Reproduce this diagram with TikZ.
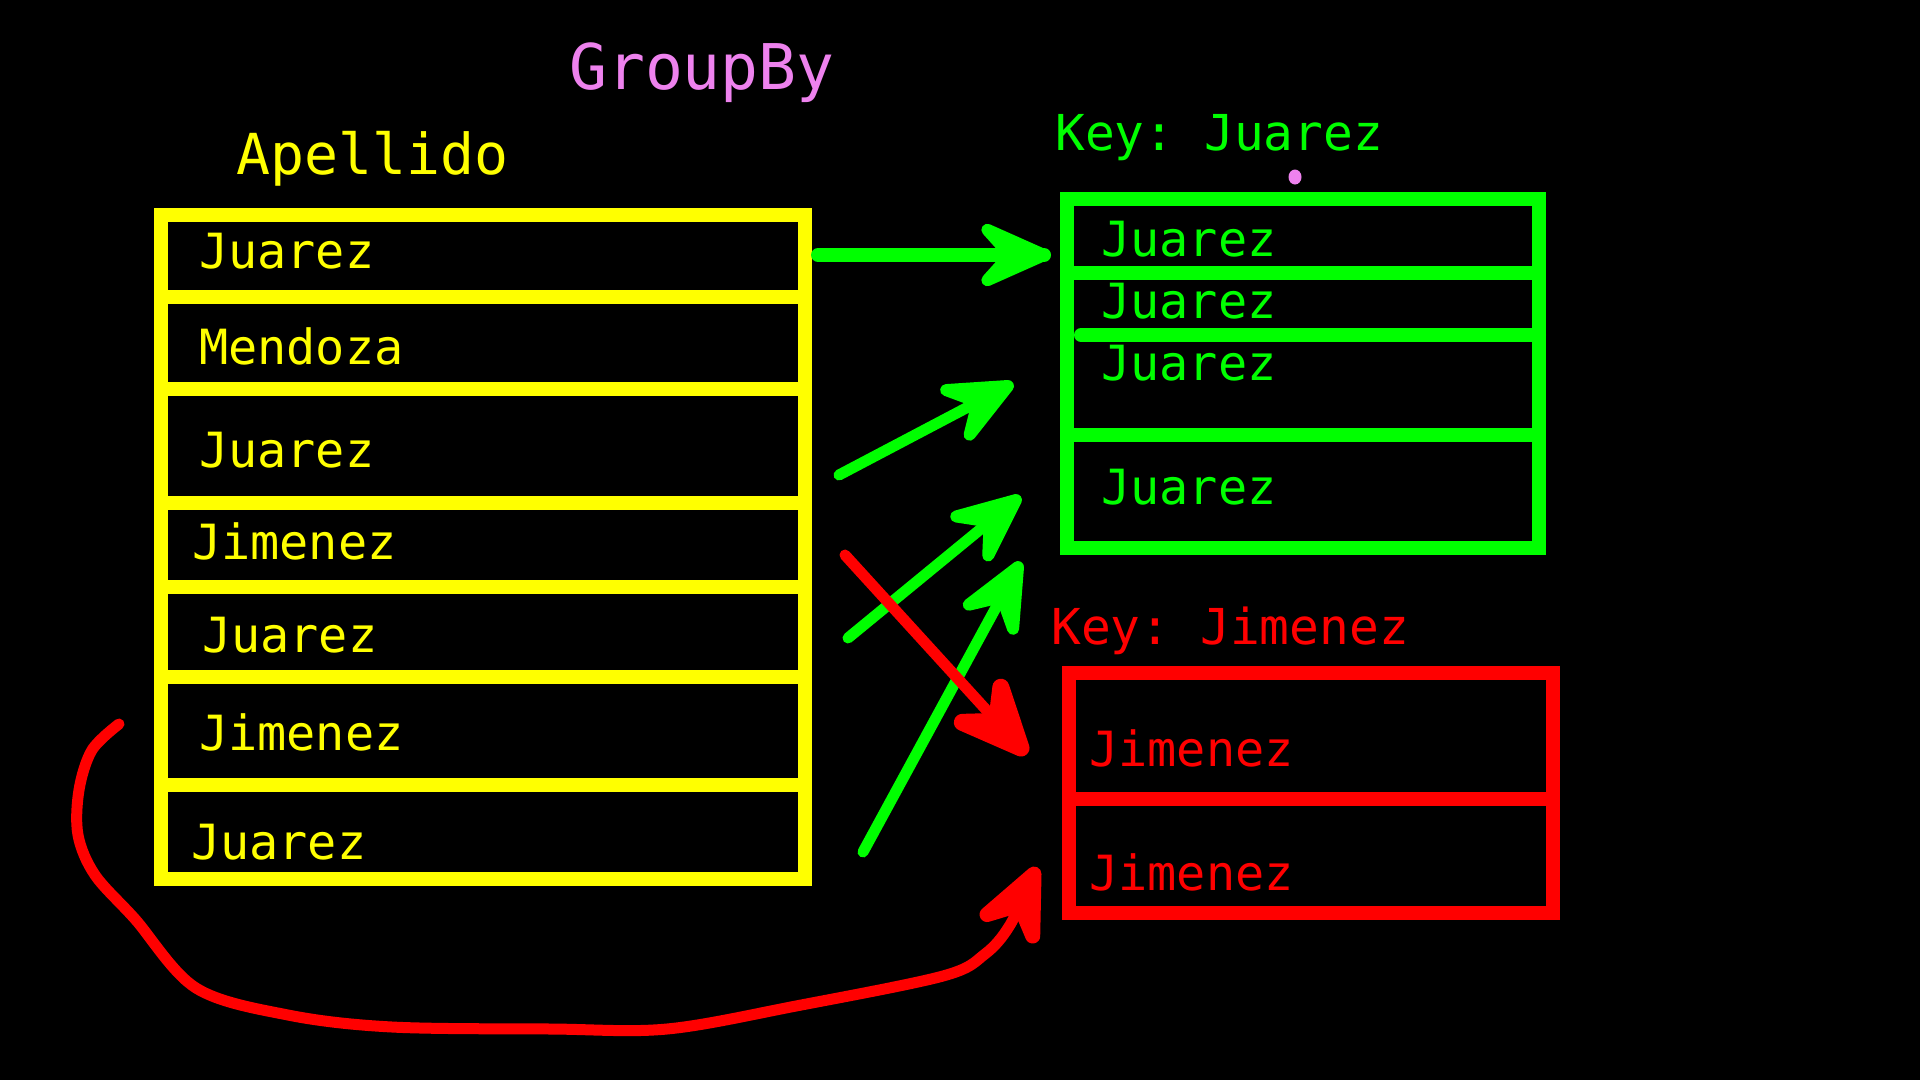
\documentclass[tikz,border=0pt]{standalone}
\usepackage{fontspec}
\setmonofont{DejaVu Sans Mono}
\usetikzlibrary{calc}
\definecolor{ylw}{RGB}{255,255,0}
\definecolor{grn}{RGB}{0,255,0}
\definecolor{rd}{RGB}{255,0,0}
\definecolor{pnk}{RGB}{238,130,238}
\tikzset{
  lbl/.style={anchor=base west, inner sep=0pt, font=\ttfamily\fontsize{48.5}{48.5}\selectfont},
  keylbl/.style={anchor=base west, inner sep=0pt, font=\ttfamily\fontsize{49.5}{49.5}\selectfont},
  boxline/.style={line width=14pt},
  shaft/.style={line width=11pt, line cap=round, line join=round},
}
% arrow head: colour, tip, point on shaft, barb length, notch distance, stroke width
\newcommand\drawhead[6]{%
  \filldraw[#1, line width=#6, line join=round]
    (#2) -- ($(#2)!#4!24:(#3)$) -- ($(#2)!#5!(#3)$) -- ($(#2)!#4!-24:(#3)$) -- cycle;}
\begin{document}
\begin{tikzpicture}[x=1pt,y=-1pt]
\fill[black] (0,0) rectangle (1920,1080);
\useasboundingbox (0,0) rectangle (1920,1080);

% titles
\node[anchor=base west, inner sep=0pt, font=\ttfamily\fontsize{63}{63}\selectfont, text=pnk] (title) at (569,89) {GroupBy};
\node[anchor=base west, inner sep=0pt, font=\ttfamily\fontsize{56.5}{56.5}\selectfont, text=ylw] (col) at (236,174) {Apellido};

% source table
\draw[boxline, ylw] (161,215) rectangle (805,879);
\foreach \yy in {297,389,503,587,677,785}
  \draw[boxline, ylw] (161,\yy) -- (805,\yy);
\node[lbl, text=ylw] (r1) at (199,268) {Juarez};
\node[lbl, text=ylw] (r2) at (199,364) {Mendoza};
\node[lbl, text=ylw] (r3) at (199,467) {Juarez};
\node[lbl, text=ylw] (r4) at (192,559) {Jimenez};
\node[lbl, text=ylw] (r5) at (202,652) {Juarez};
\node[lbl, text=ylw] (r6) at (199,750) {Jimenez};
\node[lbl, text=ylw] (r7) at (191,859) {Juarez};

% group Juarez
\node[keylbl, text=grn] (kj) at (1055,150) {Key: Juarez};
\fill[pnk] (1295,177) ellipse [x radius=6.5pt, y radius=7.5pt];
\draw[boxline, grn] (1067,199) rectangle (1539,548);
\draw[boxline, grn, line cap=round] (1067,273) -- (1531,273);
\draw[boxline, grn, line cap=round] (1081,335) -- (1539,335);
\draw[boxline, grn] (1067,435) -- (1539,435);
\node[lbl, text=grn] (g1) at (1101,256) {Juarez};
\node[lbl, text=grn] (g2) at (1101,318) {Juarez};
\node[lbl, text=grn] (g3) at (1101,380) {Juarez};
\node[lbl, text=grn] (g4) at (1101,504) {Juarez};

% group Jimenez
\node[keylbl, text=rd] (km) at (1051,644) {Key: Jimenez};
\draw[boxline, rd] (1069,673) rectangle (1553,913);
\draw[boxline, rd] (1062,799) -- (1553,799);
\node[lbl, text=rd] (m1) at (1089,766) {Jimenez};
\node[lbl, text=rd] (m2) at (1089,890) {Jimenez};

% arrow end points
\coordinate (a1s) at (818,255);  \coordinate (a1e) at (1044,255);
\coordinate (a2s) at (839,475);  \coordinate (a2e) at (1008,386);
\coordinate (a3s) at (848,638);  \coordinate (a3e) at (1016,500);
\coordinate (a4s) at (863,852);  \coordinate (a4e) at (1018,567);
\coordinate (b1s) at (845,555);  \coordinate (b1e) at (1021,748);
\coordinate (b2s) at (119,724);  \coordinate (b2e) at (1034,874);
\coordinate (b2p) at (1010,925);

% green arrows
\draw[shaft, grn, line width=14pt] (a1s) -- (a1e);
\drawhead{grn}{a1e}{a1s}{62pt}{34pt}{12pt}
\draw[shaft, grn] (a2s) -- (a2e);
\drawhead{grn}{a2e}{a2s}{62pt}{34pt}{12pt}
\draw[shaft, grn] (a3s) -- (a3e);
\drawhead{grn}{a3e}{a3s}{62pt}{34pt}{12pt}
\draw[shaft, grn] (a4s) -- (a4e);
\drawhead{grn}{a4e}{a4s}{62pt}{34pt}{12pt}

% red arrows
\draw[shaft, rd] (b1s) -- (b1e);
\drawhead{rd}{b1e}{b1s}{64pt}{36pt}{17pt}
\draw[shaft, rd] plot[smooth, tension=0.55] coordinates {(b2s) (92,750) (79,790) (78,835) (95,875) (135,919) (196,988) (288,1015) (392,1027) (551,1029) (667,1029) (796,1006) (943,976) (985,954) (b2p) (b2e)};
\drawhead{rd}{b2e}{b2p}{62pt}{34pt}{15pt}
\end{tikzpicture}
\end{document}
